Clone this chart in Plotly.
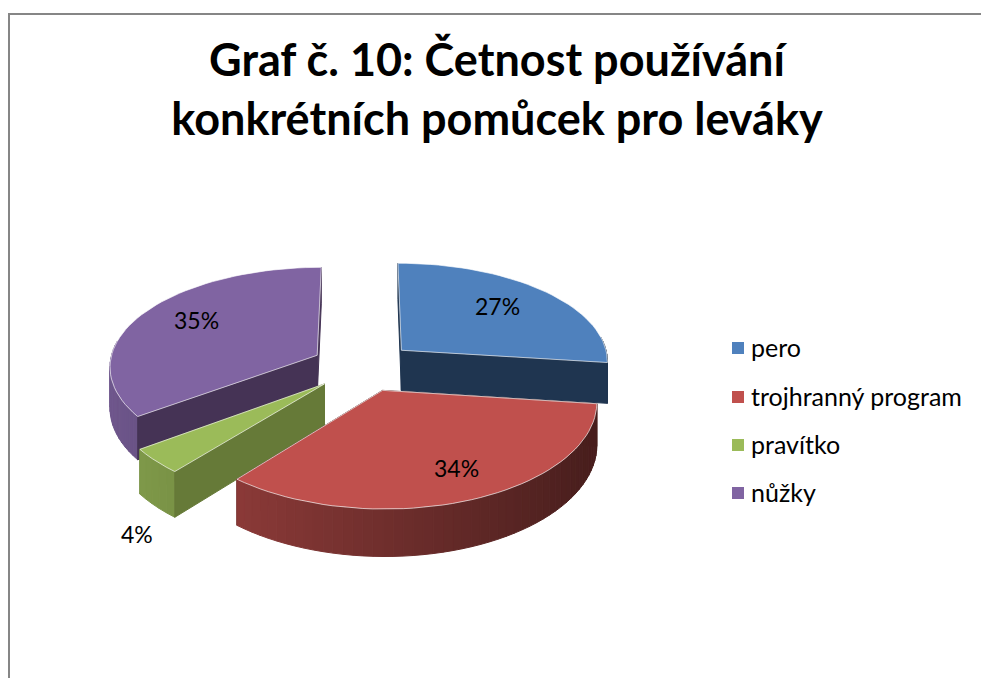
import numpy as np
import plotly.graph_objects as go

categories = ["pero", "trojhranný program", "pravítko", "nůžky"]
values = [27, 34, 4, 35]
top_colors = ["#4F81BD", "#C0504D", "#9BBB59", "#8064A2"]
wall_colors = ["#1F3550", "#4C1F1E", "#667A38", "#453355"]
title_lines = ["Graf č. 10: Četnost používání", "konkrétních pomůcek pro leváky"]

# view of the tilted pie
CX, CY, A, B, KX, KY, D, EXPLODE = 363, 366.5, 208, 100, 0.10, 0.11, 41, 0.25
LABEL_XY = [(497, 306), (456, 468), (137, 534), (196, 320)]
LEGEND_X, LEGEND_TEXT_X, LEGEND_Y = 738, 751, [348, 397, 445, 493]
DRAW_ORDER = [3, 0, 2, 1]


def project(X, Y, z):
    Y = np.asarray(Y, float)
    sx = 1 / (1 - KX * Y)
    sy = 1 / (1 - KY * Y)
    return CX + A * np.asarray(X, float) * sx, CY + (B * Y + D * z) * sy


def shade(hex_color, f):
    rgb = [int(hex_color[i:i + 2], 16) for i in (1, 3, 5)]
    return "rgb({},{},{})".format(*[round(c * f) for c in rgb])


def poly(xs, ys, fill, line=None, width=1):
    return go.Scatter(
        x=list(xs) + [xs[0]], y=list(ys) + [ys[0]], mode="lines", fill="toself",
        fillcolor=fill, line=dict(color=line or fill, width=width),
        hoverinfo="skip", showlegend=False,
    )


fig = go.Figure()
total = sum(values)
edges = np.cumsum([0] + values) / total * 2 * np.pi


def add_wall(a, ox, oy, color):
    ex, ey = ox + np.sin(a), oy - np.cos(a)
    wx0, wy0 = project([ox, ex], [oy, ey], 0)
    wx1, wy1 = project([ex, ox], [ey, oy], 1)
    fig.add_trace(poly(list(wx0) + list(wx1), list(wy0) + list(wy1), color))


for i in DRAW_ORDER:
    a0, a1 = edges[i], edges[i + 1]
    mid = (a0 + a1) / 2
    ox, oy = EXPLODE * np.sin(mid), -EXPLODE * np.cos(mid)
    ang = np.linspace(a0, a1, max(int((a1 - a0) * 24), 6))
    ax, ay = ox + np.sin(ang), oy - np.cos(ang)

    # a cut wall faces the viewer when its outward normal points forward
    a0_visible = -np.sin(a0) > 0
    a1_visible = np.sin(a1) > 1e-9

    if not a0_visible:
        add_wall(a0, ox, oy, wall_colors[i])
    if not a1_visible:
        add_wall(a1, ox, oy, wall_colors[i])

    # outer rim, shaded by horizontal position
    for j in range(len(ang) - 1):
        if np.cos((ang[j] + ang[j + 1]) / 2) > 0.15:
            continue
        fx = [ax[j], ax[j + 1]]
        fy = [ay[j], ay[j + 1]]
        tx, ty = project(fx, fy, 0)
        bx, by = project(fx[::-1], fy[::-1], 1)
        f = float(np.clip(0.6 - 0.22 * (ax[j] + ax[j + 1]) / 2, 0.38, 0.9))
        fig.add_trace(poly(list(tx) + list(bx), list(ty) + list(by), shade(top_colors[i], f)))

    if a0_visible:
        add_wall(a0, ox, oy, wall_colors[i])
    if a1_visible:
        add_wall(a1, ox, oy, wall_colors[i])

    # top face
    tx, ty = project(np.r_[ox, ax], np.r_[oy, ay], 0)
    fig.add_trace(poly(list(tx), list(ty), top_colors[i], "rgba(255,255,255,0.65)", 1))

# legend entries
for name, color, y in zip(categories, top_colors, LEGEND_Y):
    fig.add_trace(go.Scatter(
        x=[LEGEND_X], y=[y], mode="markers",
        marker=dict(symbol="square", size=12, color=color),
        hoverinfo="skip", showlegend=False,
    ))
    fig.add_annotation(x=LEGEND_TEXT_X, y=y - 1, text=name, showarrow=False,
                       xanchor="left", xshift=-2,
                       font=dict(family="Lato", size=25, color="#000000"))

# percent labels
for v, (x, y) in zip(values, LABEL_XY):
    fig.add_annotation(x=x, y=y, text=f"{v}%", showarrow=False,
                       font=dict(family="Lato", size=23, color="#000000"))

fig.update_layout(
    width=981, height=678, margin=dict(l=0, r=0, t=0, b=0),
    paper_bgcolor="white", plot_bgcolor="white", showlegend=False,
    xaxis=dict(range=[0, 981], visible=False, fixedrange=True),
    yaxis=dict(range=[678, 0], visible=False, fixedrange=True),
    shapes=[dict(type="rect", xref="x", yref="y", x0=9, y0=14, x1=1000, y1=700,
                 line=dict(color="#868686", width=2), layer="below")],
    title=dict(text="<b>" + "<br>".join(title_lines) + "</b>", x=497 / 981, y=1 - 76 / 678,
               xanchor="center", yanchor="middle",
               font=dict(family="Lato", size=45, color="#000000")),
)
fig.write_html("out.html", config=dict(displayModeBar=False),
               post_script="document.body.style.margin='0';document.body.style.overflow='hidden';")
